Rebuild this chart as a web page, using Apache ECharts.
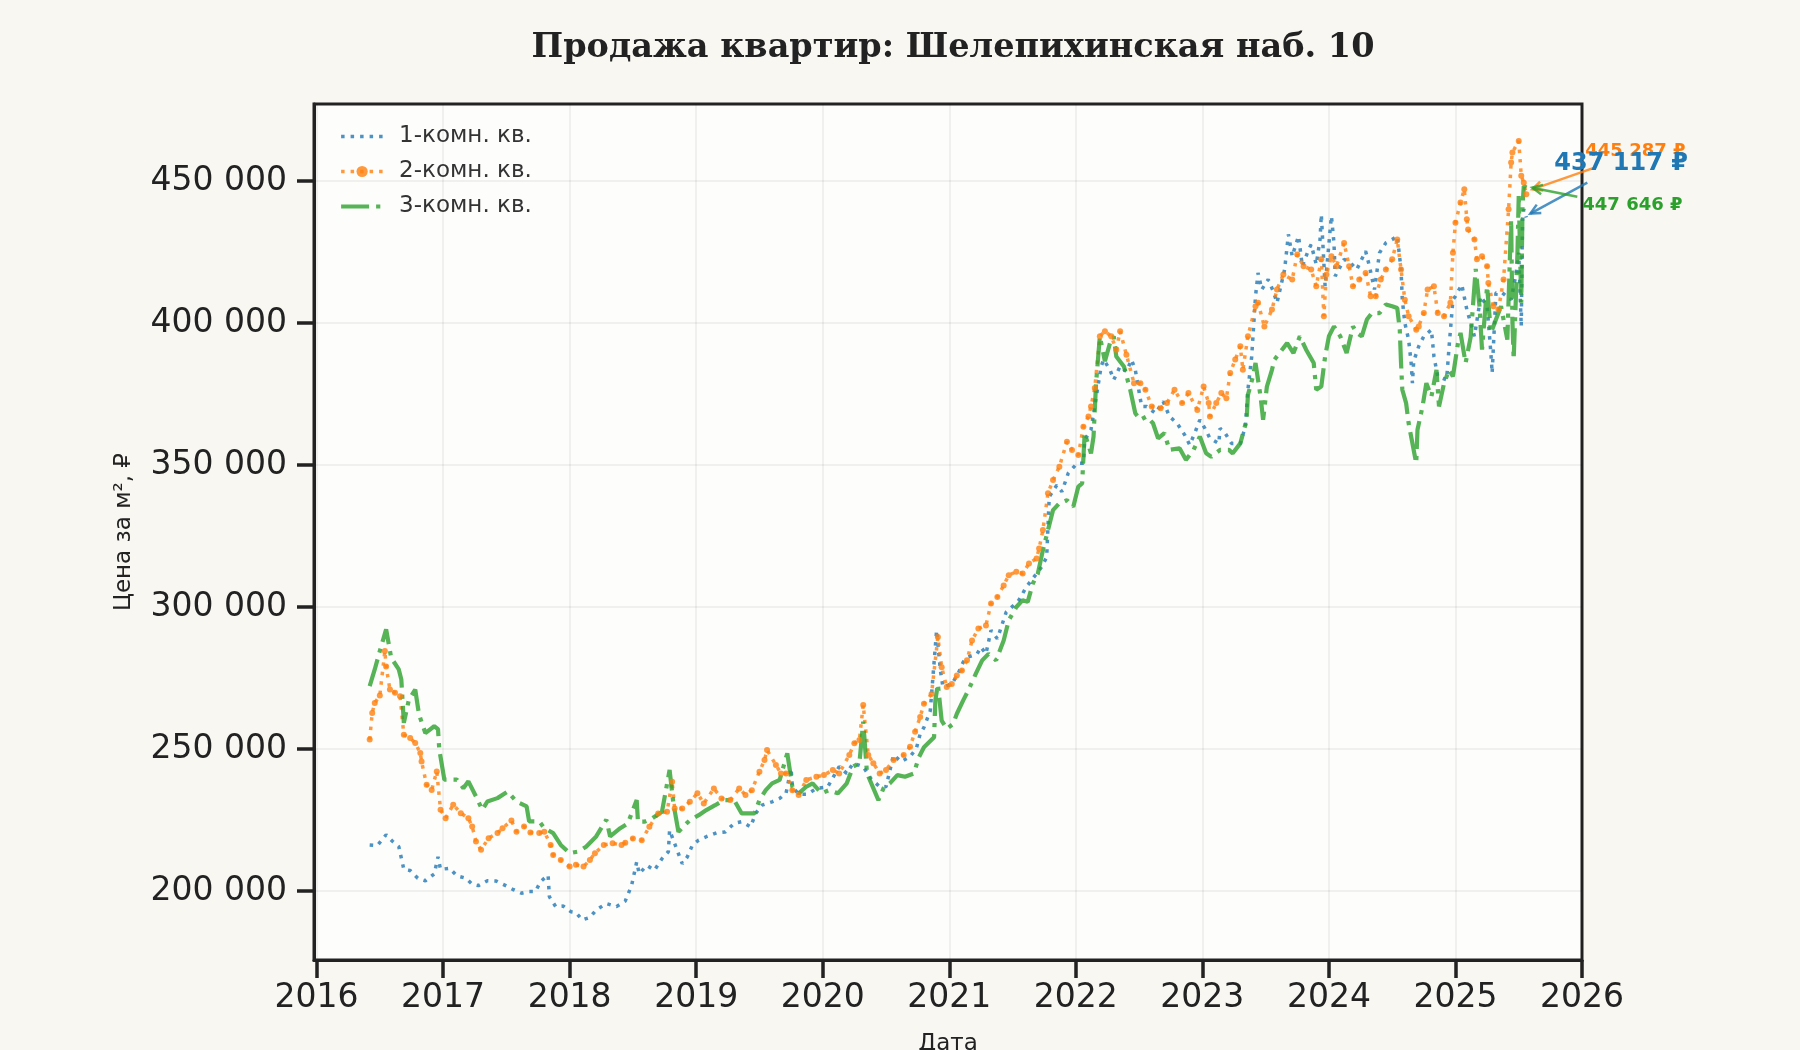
<!DOCTYPE html>
<html>
<head>
<meta charset="utf-8">
<script src="https://cdn.jsdelivr.net/npm/echarts@6/dist/echarts.min.js"></script>
<style>
  html, body { margin: 0; padding: 0; background: #f8f7f2; }
  #chart { width: 1800px; height: 1050px; }
</style>
</head>
<body>
<div id="chart"></div>
<script>
// Продажа квартир — цена за м² по типам квартир
var seriesNames = ['1-комн. кв.', '2-комн. кв.', '3-комн. кв.'];
var seriesColors = ['rgba(31,119,180,0.8)', 'rgba(255,127,14,0.8)', 'rgba(44,160,44,0.8)'];
var noteColors = ['#1f77b4', '#ff7f0e', '#2ca02c'];
var yearTicks = [2016, 2017, 2018, 2019, 2020, 2021, 2022, 2023, 2024, 2025, 2026];
var priceTicks = [200000, 250000, 300000, 350000, 400000, 450000];

// [год, цена за м²]
var oneRoom = [
  [2016.42,216200],[2016.48,216000],[2016.55,219800],[2016.6,217500],[2016.65,215600],[2016.69,207600],
  [2016.74,207200],[2016.8,204500],[2016.86,203600],[2016.93,206000],[2016.96,212000],[2016.98,207600],
  [2017.05,208000],[2017.11,205300],[2017.18,204500],[2017.23,202400],[2017.28,201900],[2017.35,203600],
  [2017.42,203500],[2017.5,201800],[2017.55,200600],[2017.62,199200],[2017.68,199800],[2017.73,199800],
  [2017.77,203300],[2017.83,205600],[2017.84,198000],[2017.89,194500],[2017.95,194700],[2018.01,192700],
  [2018.05,192400],[2018.1,189800],[2018.16,190700],[2018.21,193300],[2018.29,195600],[2018.37,194500],
  [2018.44,196500],[2018.49,202000],[2018.53,210200],[2018.55,206100],[2018.61,209000],[2018.67,207300],
  [2018.73,211400],[2018.78,213800],[2018.79,221400],[2018.83,216700],[2018.89,209600],[2018.93,212000],
  [2018.97,216100],[2019.02,217900],[2019.08,219100],[2019.16,220500],[2019.23,220800],[2019.3,223800],
  [2019.36,224400],[2019.43,222600],[2019.47,227300],[2019.52,230200],[2019.6,231400],[2019.66,232600],
  [2019.71,234400],[2019.75,243200],[2019.76,236700],[2019.81,234100],[2019.88,234100],[2019.95,236100],
  [2020.04,236700],[2020.13,243800],[2020.19,241400],[2020.24,245000],[2020.32,243800],[2020.38,239600],
  [2020.45,236700],[2020.5,236700],[2020.56,247900],[2020.62,245500],[2020.69,247300],[2020.74,250200],
  [2020.77,255300],[2020.8,257600],[2020.85,263500],[2020.9,291800],[2020.93,277600],[2020.95,271800],
  [2021.02,272900],[2021.07,276500],[2021.11,280600],[2021.15,282400],[2021.22,283500],[2021.25,285900],
  [2021.29,283500],[2021.33,291800],[2021.38,288800],[2021.45,298200],[2021.51,300600],[2021.55,302400],
  [2021.61,307100],[2021.67,310600],[2021.73,314100],[2021.77,317600],[2021.78,328200],[2021.79,338800],
  [2021.85,342900],[2021.89,340600],[2021.94,347100],[2022.01,350600],[2022.06,350600],[2022.07,358800],
  [2022.12,362400],[2022.16,373500],[2022.2,384700],[2022.22,387100],[2022.27,383500],[2022.3,380000],
  [2022.35,384700],[2022.4,382900],[2022.44,387100],[2022.47,383500],[2022.52,370600],[2022.56,370600],
  [2022.63,368200],[2022.69,372400],[2022.74,367100],[2022.8,364700],[2022.86,360600],[2022.9,357100],
  [2022.94,361200],[2022.98,365900],[2023.02,362900],[2023.06,359400],[2023.13,357600],[2023.14,362900],
  [2023.18,361200],[2023.23,357600],[2023.3,357600],[2023.34,363500],[2023.36,376500],[2023.39,388200],
  [2023.42,409400],[2023.44,417600],[2023.47,411800],[2023.52,415300],[2023.56,411200],[2023.59,407100],
  [2023.65,418800],[2023.68,431200],[2023.71,423500],[2023.76,430600],[2023.79,420000],[2023.84,425900],
  [2023.86,427600],[2023.9,420600],[2023.93,429400],[2023.94,438200],[2023.97,412900],[2024.01,432900],
  [2024.02,437600],[2024.04,428200],[2024.05,416500],[2024.12,422400],[2024.17,421200],[2024.22,418800],
  [2024.29,425300],[2024.32,420000],[2024.36,411800],[2024.4,424700],[2024.45,428200],[2024.5,429400],
  [2024.54,430600],[2024.57,418800],[2024.58,408200],[2024.6,400000],[2024.63,394100],[2024.65,385900],
  [2024.66,378800],[2024.67,386500],[2024.71,391800],[2024.75,395300],[2024.81,397600],[2024.83,388200],
  [2024.86,381200],[2024.93,380000],[2024.95,391800],[2024.98,408200],[2025.0,409400],[2025.05,413500],
  [2025.09,404700],[2025.15,395300],[2025.2,409400],[2025.25,405900],[2025.28,389400],[2025.29,382400],
  [2025.32,410600],[2025.37,410600],[2025.44,408200],[2025.48,417600],[2025.5,424700],[2025.52,398800],
  [2025.53,436500],[2025.54,440000],[2025.56,437117]
];

var twoRoom = [
  [2016.42,253300],[2016.44,262700],[2016.46,266200],[2016.5,268800],[2016.54,284500],[2016.55,279000],
  [2016.58,270900],[2016.62,269800],[2016.66,268600],[2016.69,255000],[2016.74,253900],[2016.78,252100],
  [2016.82,248600],[2016.83,245600],[2016.87,237400],[2016.91,235600],[2016.95,242100],[2016.98,228600],
  [2017.02,225600],[2017.08,230400],[2017.14,227400],[2017.2,225600],[2017.23,222700],[2017.26,217400],
  [2017.3,214500],[2017.36,218600],[2017.43,220400],[2017.47,222100],[2017.54,224800],[2017.58,220900],
  [2017.64,222700],[2017.69,220600],[2017.76,220400],[2017.8,220900],[2017.85,216200],[2017.87,212700],
  [2017.93,210900],[2018.0,208600],[2018.05,209200],[2018.11,208600],[2018.16,210900],[2018.2,213300],
  [2018.27,216200],[2018.34,216800],[2018.41,216200],[2018.44,217000],[2018.5,218500],[2018.57,217900],
  [2018.63,222600],[2018.7,227300],[2018.77,227900],[2018.81,238500],[2018.83,229000],[2018.89,229000],
  [2018.95,231400],[2019.01,234400],[2019.06,230800],[2019.14,236100],[2019.2,232600],[2019.27,232000],
  [2019.34,236100],[2019.39,233800],[2019.44,235500],[2019.5,242000],[2019.54,246100],[2019.56,249600],
  [2019.63,244400],[2019.67,241400],[2019.71,241400],[2019.76,235500],[2019.81,233800],[2019.87,239100],
  [2019.95,240200],[2020.01,240800],[2020.08,242600],[2020.13,241400],[2020.21,247900],[2020.25,252000],
  [2020.29,253200],[2020.32,265500],[2020.36,247900],[2020.4,245000],[2020.45,241400],[2020.5,242600],
  [2020.56,246100],[2020.64,247900],[2020.69,250800],[2020.73,256100],[2020.77,261300],[2020.8,265900],
  [2020.86,269400],[2020.91,289400],[2020.94,278800],[2020.98,271800],[2021.02,272900],[2021.06,275900],
  [2021.1,277600],[2021.14,281200],[2021.18,288200],[2021.23,292400],[2021.29,293500],[2021.33,301200],
  [2021.38,303500],[2021.43,307600],[2021.47,311200],[2021.53,312400],[2021.58,311800],[2021.63,315300],
  [2021.69,317100],[2021.71,320600],[2021.74,327100],[2021.78,340000],[2021.82,344700],[2021.87,349400],
  [2021.93,358200],[2021.97,355300],[2022.02,353500],[2022.06,363500],[2022.1,367100],[2022.12,370600],
  [2022.15,377100],[2022.19,395300],[2022.23,397100],[2022.28,395300],[2022.32,390600],[2022.35,397100],
  [2022.4,388800],[2022.46,378800],[2022.51,378800],[2022.55,376500],[2022.6,370600],[2022.67,370000],
  [2022.72,371800],[2022.78,376500],[2022.84,371800],[2022.89,375300],[2022.96,369400],[2023.01,377600],
  [2023.05,371800],[2023.06,367100],[2023.11,371800],[2023.15,375300],[2023.19,373500],[2023.22,382400],
  [2023.26,387100],[2023.3,391800],[2023.32,383500],[2023.36,395300],[2023.42,405900],[2023.44,407100],
  [2023.49,398800],[2023.55,404700],[2023.59,411800],[2023.64,417100],[2023.71,415300],[2023.75,424100],
  [2023.8,420000],[2023.86,418800],[2023.9,412900],[2023.94,422400],[2023.96,402400],[2023.98,417100],
  [2024.02,423500],[2024.06,420000],[2024.12,428200],[2024.16,420000],[2024.19,412900],[2024.24,415300],
  [2024.29,417600],[2024.33,409400],[2024.37,409400],[2024.41,415300],[2024.45,418800],[2024.5,422400],
  [2024.54,429400],[2024.57,418800],[2024.6,408200],[2024.63,402400],[2024.69,397600],[2024.71,398800],
  [2024.75,403500],[2024.78,411800],[2024.83,412900],[2024.86,403500],[2024.91,402400],[2024.96,407100],
  [2024.98,424700],[2025.0,435300],[2025.04,442400],[2025.07,447100],[2025.09,436500],[2025.1,432900],
  [2025.15,429400],[2025.17,422400],[2025.21,423500],[2025.25,420000],[2025.26,414100],[2025.3,405900],
  [2025.34,404700],[2025.38,415300],[2025.42,440000],[2025.44,456500],[2025.45,460000],[2025.5,464100],
  [2025.52,451800],[2025.54,449400],[2025.56,445287]
];

var threeRoom = [
  [2016.42,272100],[2016.46,278000],[2016.5,284500],[2016.55,292100],[2016.59,282100],[2016.65,278000],
  [2016.67,274500],[2016.69,259200],[2016.73,267400],[2016.78,270900],[2016.81,262100],[2016.86,255600],
  [2016.93,258000],[2016.96,257000],[2016.97,249800],[2017.01,239200],[2017.05,239200],[2017.11,239200],
  [2017.16,236200],[2017.2,238600],[2017.26,233300],[2017.31,228600],[2017.35,231500],[2017.43,232700],
  [2017.51,235000],[2017.58,231500],[2017.66,229800],[2017.68,224500],[2017.76,224500],[2017.8,222100],
  [2017.87,220400],[2017.93,216200],[2018.0,213300],[2018.07,213900],[2018.13,215600],[2018.21,219200],
  [2018.29,225100],[2018.32,219200],[2018.4,222100],[2018.46,223800],[2018.53,232000],[2018.54,224400],
  [2018.59,224400],[2018.65,225500],[2018.73,227900],[2018.79,242600],[2018.82,230800],[2018.86,220800],
  [2018.91,223200],[2018.95,224900],[2019.02,226700],[2019.08,228500],[2019.15,230200],[2019.22,232000],
  [2019.3,232000],[2019.36,227300],[2019.46,227300],[2019.5,232000],[2019.55,235500],[2019.6,237900],
  [2019.66,239100],[2019.72,248500],[2019.76,236700],[2019.81,234400],[2019.87,236700],[2019.92,237900],
  [2019.99,234400],[2020.05,235500],[2020.12,234400],[2020.19,237900],[2020.24,243800],[2020.29,245000],
  [2020.32,259600],[2020.35,241400],[2020.44,232000],[2020.48,236100],[2020.53,237900],[2020.59,240800],
  [2020.65,240200],[2020.72,241400],[2020.76,247100],[2020.8,250600],[2020.88,254100],[2020.89,267100],
  [2020.91,272900],[2020.94,260000],[2020.98,257100],[2021.03,258800],[2021.06,262400],[2021.11,267100],
  [2021.15,270600],[2021.21,276500],[2021.26,281200],[2021.31,283500],[2021.37,281200],[2021.43,288200],
  [2021.47,295300],[2021.53,300000],[2021.58,302400],[2021.62,301800],[2021.66,308200],[2021.7,311800],
  [2021.74,320000],[2021.78,327100],[2021.82,334100],[2021.87,336500],[2021.93,337600],[2021.98,335300],
  [2022.02,342400],[2022.05,343500],[2022.07,361200],[2022.12,354100],[2022.14,360000],[2022.16,378800],
  [2022.19,395300],[2022.23,386500],[2022.27,392900],[2022.3,395300],[2022.32,388200],[2022.38,384700],
  [2022.43,376500],[2022.47,368200],[2022.51,365900],[2022.56,367100],[2022.61,364700],[2022.65,359400],
  [2022.7,361200],[2022.74,355300],[2022.82,355900],[2022.87,351800],[2022.93,355300],[2022.98,360000],
  [2023.03,354100],[2023.07,352900],[2023.14,355300],[2023.21,355300],[2023.24,354100],[2023.3,357600],
  [2023.35,365900],[2023.36,374700],[2023.4,381200],[2023.42,385900],[2023.46,374100],[2023.48,365900],
  [2023.51,377600],[2023.55,383500],[2023.57,387100],[2023.61,389400],[2023.67,392900],[2023.72,389400],
  [2023.77,395300],[2023.82,390600],[2023.88,385900],[2023.9,376500],[2023.94,377600],[2023.97,388200],
  [2024.0,395300],[2024.04,398800],[2024.09,395300],[2024.14,389400],[2024.19,398800],[2024.22,396500],
  [2024.26,395300],[2024.3,401200],[2024.34,403500],[2024.4,403500],[2024.45,406500],[2024.5,405900],
  [2024.54,405300],[2024.56,397600],[2024.57,385900],[2024.58,376500],[2024.61,371800],[2024.63,364700],
  [2024.66,357600],[2024.69,350600],[2024.7,362400],[2024.74,370600],[2024.77,378800],[2024.81,374100],
  [2024.85,383500],[2024.87,370600],[2024.91,378800],[2024.95,383500],[2024.98,381200],[2025.02,392900],
  [2025.04,396500],[2025.08,385900],[2025.12,395000],[2025.16,419000],[2025.19,405900],[2025.21,390600],
  [2025.25,412900],[2025.28,396500],[2025.32,401200],[2025.36,405900],[2025.41,394100],[2025.44,436500],
  [2025.45,401200],[2025.46,387100],[2025.49,424700],[2025.5,444700],[2025.52,407100],[2025.53,441200],
  [2025.54,448200],[2025.56,447646]
];

var allSeries = [oneRoom, twoRoom, threeRoom];
var ink = '#222222';
var gridColor = 'rgba(0,0,0,0.05)';
var sans = 'DejaVu Sans';
var lineStyles = [
  { color: seriesColors[0], width: 3.5, type: [3.5, 6], cap: 'butt' },
  { color: seriesColors[1], width: 3.5, type: [3.5, 6], cap: 'butt' },
  { color: seriesColors[2], width: 4.2, type: [28, 7, 4.2, 7], cap: 'butt' }
];

function spaced(v) {
  return String(Math.round(v)).replace(/\B(?=(\d{3})+(?!\d))/g, ' ');
}

var chart = echarts.init(document.getElementById('chart'), null, { renderer: 'canvas' });

chart.setOption({
  animation: false,
  backgroundColor: '#f8f7f2',
  title: {
    text: 'Продажа квартир: Шелепихинская наб. 10',
    left: 948,
    top: 26,
    textAlign: 'center',
    textStyle: { fontFamily: 'DejaVu Serif', fontWeight: 'bold', fontSize: 33.5, color: ink }
  },
  legend: {
    orient: 'vertical',
    left: 334,
    top: 120,
    itemWidth: 42,
    itemHeight: 14,
    itemGap: 12,
    textStyle: { fontFamily: sans, fontSize: 23, color: '#333333', padding: [0, 0, 0, 11] },
    data: [
      { name: seriesNames[0], itemStyle: { opacity: 0 }, lineStyle: lineStyles[0] },
      { name: seriesNames[1], lineStyle: lineStyles[1] },
      { name: seriesNames[2], itemStyle: { opacity: 0 }, lineStyle: lineStyles[2] }
    ]
  },
  grid: {
    left: 314, right: 218, top: 104, bottom: 90,
    outerBoundsMode: 'none',
    containLabel: false,
    show: true,
    backgroundColor: '#fdfdfc',
    borderColor: ink,
    borderWidth: 3
  },
  xAxis: {
    type: 'value',
    min: 2015.98, max: 2026,
    name: 'Дата',
    nameLocation: 'middle',
    nameGap: 73,
    nameTextStyle: { fontFamily: sans, fontSize: 23, color: ink },
    axisLine: { show: true, lineStyle: { color: ink, width: 3 } },
    axisTick: { show: true, length: 18, customValues: yearTicks, lineStyle: { color: ink, width: 3.5 } },
    axisLabel: {
      fontFamily: sans, fontSize: 33, color: ink, margin: 22,
      customValues: yearTicks,
      formatter: function(v) { return String(Math.round(v)); }
    },
    splitLine: { show: true, lineStyle: { color: gridColor, width: 2 } }
  },
  yAxis: {
    type: 'value',
    min: 175700, max: 477100,
    name: 'Цена за м², ₽',
    nameLocation: 'middle',
    nameRotate: 90,
    nameGap: 178,
    nameTextStyle: { fontFamily: sans, fontSize: 23, color: ink },
    axisLine: { show: true, lineStyle: { color: ink, width: 3 } },
    axisTick: { show: true, length: 17, customValues: priceTicks, lineStyle: { color: ink, width: 3.5 } },
    axisLabel: {
      fontFamily: sans, fontSize: 33, color: ink, margin: 27,
      customValues: priceTicks,
      formatter: spaced
    },
    splitLine: { show: true, lineStyle: { color: gridColor, width: 2 } }
  },
  series: [
    {
      name: seriesNames[0],
      type: 'line',
      data: oneRoom,
      symbol: 'none',
      lineStyle: lineStyles[0],
      itemStyle: { color: seriesColors[0] }
    },
    {
      name: seriesNames[1],
      type: 'line',
      data: twoRoom,
      symbol: 'circle',
      symbolSize: 6,
      showAllSymbol: true,
      lineStyle: lineStyles[1],
      itemStyle: { color: seriesColors[1] }
    },
    {
      name: seriesNames[2],
      type: 'line',
      data: threeRoom,
      symbol: 'none',
      lineStyle: lineStyles[2],
      itemStyle: { color: seriesColors[2] }
    }
  ]
});

// подписи последних значений со стрелками
var notes = [
  { idx: 1, size: 18, text: [59, -43], from: [69, -27], tip: [6, -5] },
  { idx: 0, size: 24, text: [28, -54], from: [61, -35], tip: [4, -4] },
  { idx: 2, size: 18, text: [56, 18], from: [51, 9], tip: [6, 0] }
];

function arrowHead(tx, ty, fx, fy) {
  var ang = Math.atan2(ty - fy, tx - fx);
  var len = 11, spread = 0.45;
  return [
    [tx - len * Math.cos(ang - spread), ty - len * Math.sin(ang - spread)],
    [tx, ty],
    [tx - len * Math.cos(ang + spread), ty - len * Math.sin(ang + spread)]
  ];
}

var graphics = [];
notes.forEach(function(n) {
  var data = allSeries[n.idx];
  var last = data[data.length - 1];
  var p = chart.convertToPixel({ gridIndex: 0 }, last);
  var fx = p[0] + n.from[0], fy = p[1] + n.from[1];
  var tx = p[0] + n.tip[0], ty = p[1] + n.tip[1];
  var col = seriesColors[n.idx];
  graphics.push({
    type: 'line',
    shape: { x1: fx, y1: fy, x2: tx, y2: ty },
    style: { stroke: col, lineWidth: 2.5 },
    z: 100
  });
  graphics.push({
    type: 'polyline',
    shape: { points: arrowHead(tx, ty, fx, fy) },
    style: { stroke: col, lineWidth: 2.5, fill: null },
    z: 100
  });
  graphics.push({
    type: 'text',
    x: p[0] + n.text[0],
    y: p[1] + n.text[1],
    style: {
      text: spaced(last[1]) + ' ₽',
      fill: noteColors[n.idx],
      font: 'bold ' + n.size + 'px "DejaVu Sans"',
      verticalAlign: 'middle',
      align: 'left'
    },
    z: 101
  });
});
chart.setOption({ graphic: graphics });
</script>
</body>
</html>
